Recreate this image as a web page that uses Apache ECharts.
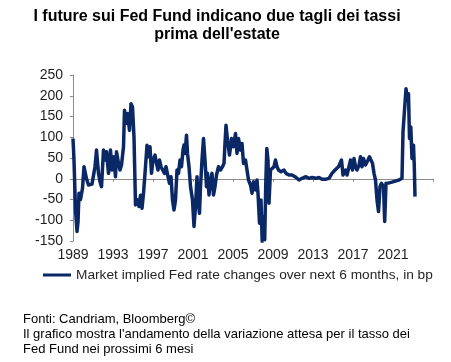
<!DOCTYPE html>
<html>
<head>
<meta charset="utf-8">
<script src="https://cdn.jsdelivr.net/npm/echarts@6/dist/echarts.min.js"></script>
<style>
html,body{margin:0;padding:0;background:#fff;}
#c{width:451px;height:362px;}
</style>
</head>
<body>
<div id="c"></div>
<script>
var titleLines = ["I future sui Fed Fund indicano due tagli dei tassi", "prima dell'estate"];
var seriesName = "Market implied Fed rate changes over next 6 months, in bp";
var footerLines = ["Fonti: Candriam, Bloomberg\u00a9", "Il grafico mostra l'andamento della variazione attesa per il tasso dei", "Fed Fund nei prossimi 6 mesi"];
var yearTicks = [1989, 1993, 1997, 2001, 2005, 2009, 2013, 2017, 2021];
var yTicks = [-150, -100, -50, 0, 50, 100, 150, 200, 250];

var dates = [
1989.00,1989.10,1989.25,1989.40,1989.50,1989.60,1989.75,1989.95,1990.10,1990.20,
1990.35,1990.55,1990.75,1990.90,1991.05,1991.20,1991.35,1991.42,1991.55,1991.70,
1991.85,1992.05,1992.20,1992.35,1992.55,1992.75,1992.90,1993.05,1993.25,1993.35,
1993.55,1993.70,1993.85,1994.05,1994.15,1994.30,1994.45,1994.65,1994.80,1994.95,
1995.10,1995.25,1995.45,1995.60,1995.75,1995.90,1996.05,1996.25,1996.40,1996.55,
1996.70,1996.85,1997.00,1997.20,1997.35,1997.50,1997.65,1997.80,1997.95,1998.15,
1998.30,1998.50,1998.65,1998.80,1998.95,1999.10,1999.25,1999.40,1999.55,1999.70,
1999.85,2000.00,2000.10,2000.20,2000.35,2000.45,2000.60,2000.75,2000.95,2001.10,
2001.25,2001.40,2001.50,2001.65,2001.75,2001.90,2002.05,2002.20,2002.35,2002.45,
2002.60,2002.75,2002.90,2003.05,2003.20,2003.35,2003.55,2003.75,2003.95,2004.10,
2004.20,2004.30,2004.45,2004.65,2004.85,2005.05,2005.25,2005.40,2005.55,2005.75,
2005.90,2006.05,2006.25,2006.40,2006.55,2006.75,2006.90,2007.05,2007.25,2007.40,
2007.50,2007.65,2007.80,2007.92,2008.05,2008.17,2008.27,2008.38,2008.50,2008.60,
2008.75,2008.95,2009.10,2009.25,2009.40,2009.55,2009.80,2010.10,2010.30,2010.60,
2010.90,2011.20,2011.60,2011.90,2012.30,2012.60,2012.90,2013.30,2013.60,2013.90,
2014.30,2014.60,2014.90,2015.20,2015.55,2015.85,2016.00,2016.25,2016.40,2016.60,
2016.75,2016.95,2017.10,2017.25,2017.40,2017.60,2017.75,2017.90,2018.05,2018.25,
2018.50,2018.65,2018.80,2018.95,2019.10,2019.25,2019.40,2019.55,2019.70,2019.85,
2020.05,2020.17,2020.30,2020.60,2020.90,2021.30,2021.60,2021.90,2022.00,2022.15,
2022.30,2022.45,2022.55,2022.65,2022.78,2022.90,2023.05,2023.13,2023.20
];
var values = [
97,45,-75,-127,-105,-35,-50,-23,29,33,
0,-15,-19,-13,-11,29,69,73,13,-7,
-19,69,45,65,13,69,21,53,5,65,
37,21,33,77,165,133,157,117,181,173,
100,-63,-51,-67,-40,-71,-35,29,81,53,
77,13,45,57,37,21,45,29,33,13,
29,5,-11,5,-51,-75,-51,21,13,45,
29,69,81,61,105,61,29,-19,-51,-115,
-67,5,-51,-83,-19,45,97,45,-19,13,
-39,-7,13,-39,-19,9,29,21,29,37,
85,129,93,57,97,77,109,61,97,69,
85,37,45,21,-3,-15,-35,-7,-27,-3,
-35,-107,-51,-151,-91,-147,-19,73,45,-59,
21,21,29,45,29,21,17,21,13,9,
9,5,-3,1,5,1,3,1,3,-1,
-1,1,13,21,29,45,9,21,9,29,
45,21,49,29,21,33,53,29,49,33,
45,53,57,37,13,-3,-51,-79,-19,-11,
-19,-103,-11,-10,-8,-5,-3,1,113,165,
217,189,205,97,125,49,81,30,-43
];

var FONT = "'Liberation Sans', Arial, sans-serif";
var seriesData = dates.map(function (d, i) { return [d, values[i]]; });

var chart = echarts.init(document.getElementById('c'), null, {renderer: 'canvas'});
chart.setOption({
  animation: false,
  backgroundColor: '#ffffff',
  textStyle: {fontFamily: FONT},
  grid: {left: 73, right: 18, top: 75, bottom: 121, containLabel: false},
  legend: {
    show: true,
    left: 38, top: 263,
    icon: 'rect', itemWidth: 28, itemHeight: 3,
    textStyle: {fontFamily: FONT, fontSize: 13.7, color: '#262626'},
    data: [seriesName]
  },
  xAxis: [{
    type: 'value', min: 1989, max: 2025, interval: 4,
    position: 'bottom',
    axisLine: {show: false, onZero: false},
    axisTick: {show: false},
    splitLine: {show: false},
    axisLabel: {
      fontFamily: FONT, fontSize: 14, color: '#1f1f1f', margin: 7,
      formatter: function (v) { return yearTicks.indexOf(v) >= 0 ? String(v) : ''; }
    }
  }, {
    type: 'value', min: 1989, max: 2025, interval: 4,
    position: 'top',
    axisLine: {show: true, onZero: true, lineStyle: {color: '#8c8c8c', width: 1}},
    axisTick: {show: true, inside: true, length: 3, lineStyle: {color: '#8c8c8c'}},
    axisLabel: {show: false},
    splitLine: {show: false}
  }],
  yAxis: {
    type: 'value', min: yTicks[0], max: yTicks[yTicks.length - 1], interval: 50,
    axisLine: {show: true, lineStyle: {color: '#8c8c8c', width: 1}},
    axisTick: {show: true, length: 3, lineStyle: {color: '#8c8c8c'}},
    splitLine: {show: false},
    axisLabel: {fontFamily: FONT, fontSize: 14, color: '#1f1f1f', margin: 10}
  },
  series: [{
    name: seriesName,
    type: 'line',
    xAxisIndex: 0,
    data: seriesData,
    showSymbol: false,
    symbol: 'none',
    color: '#0a2766',
    lineStyle: {width: 3.5, color: '#0a2766', join: 'round'},
    z: 5
  }],
  graphic: [
    {type: 'text', x: 217, y: 17, style: {text: titleLines[0], fontFamily: FONT, fontSize: 16, fontWeight: 'bold', fill: '#000', align: 'center', verticalAlign: 'middle'}},
    {type: 'text', x: 217, y: 35, style: {text: titleLines[1], fontFamily: FONT, fontSize: 16, fontWeight: 'bold', fill: '#000', align: 'center', verticalAlign: 'middle'}},
    {type: 'text', x: 23, y: 319, style: {text: footerLines[0], fontFamily: FONT, fontSize: 13, fill: '#000', align: 'left', verticalAlign: 'middle'}},
    {type: 'text', x: 23, y: 334, style: {text: footerLines[1], fontFamily: FONT, fontSize: 13, fill: '#000', align: 'left', verticalAlign: 'middle'}},
    {type: 'text', x: 23, y: 349, style: {text: footerLines[2], fontFamily: FONT, fontSize: 13, fill: '#000', align: 'left', verticalAlign: 'middle'}}
  ]
});
</script>
</body>
</html>
